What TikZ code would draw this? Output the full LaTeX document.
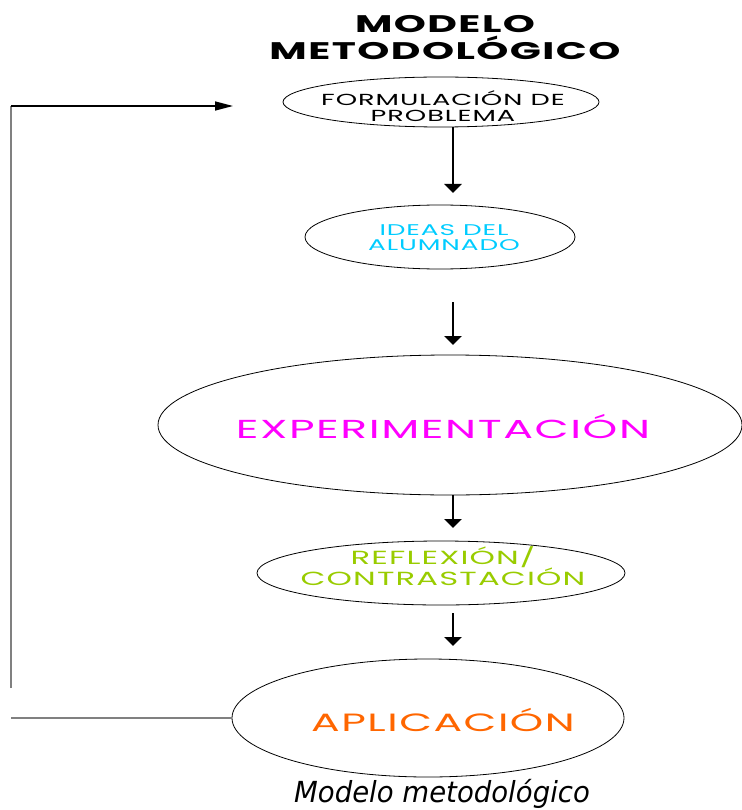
\documentclass[tikz,border=0pt]{standalone}
\usepackage{fontspec}
\setmainfont{Poppins}[FakeStretch=1.7,LetterSpace=6]
\newfontfamily\piefont{DejaVu Sans}[FakeStretch=0.95]
\usetikzlibrary{positioning,shapes.geometric,arrows.meta}
\definecolor{celeste}{RGB}{0,204,255}
\definecolor{fucsia}{RGB}{255,0,255}
\definecolor{verdelima}{RGB}{153,204,0}
\definecolor{naranja}{RGB}{255,102,0}
\definecolor{gris}{RGB}{128,128,128}
\newcommand{\letra}[2]{\fontsize{#1}{#2}\selectfont}
\tikzstyle{etapa} = [draw, ellipse, inner sep=0pt, line width=0.8pt]
\tikzstyle{rotulo} = [align=center, inner sep=0pt]
\tikzstyle{paso} = [line width=2.5pt, -{Triangle[length=9pt,width=17pt]}]
\tikzstyle{retorno} = [draw=gris, line width=2pt]

\begin{document}
\begin{tikzpicture}[x=1pt,y=-1pt]
			\useasboundingbox (0,0) rectangle (741,810);
			\node[rotulo, font=\bfseries\letra{24}{27}] (titulo) at (445,38) {MODELO\\METODOLÓGICO};
			\node[etapa, minimum width=316pt, minimum height=50pt] (form) at (441,102) {};
			\node[rotulo, font=\letra{16}{16}] (formtxt) at (443,106) {FORMULACIÓN DE\\PROBLEMA};
			\node[etapa, minimum width=270pt, minimum height=64pt] (ideas) at (440,237) {};
			\node[rotulo, text=celeste, font=\letra{15.5}{15}] (ideastxt) at (444,238) {IDEAS DEL\\ALUMNADO};
			\node[etapa, minimum width=584pt, minimum height=140pt] (exp) at (450,425) {};
			\node[rotulo, text=fucsia, font=\letra{26}{26}] (exptxt) at (443,427) {EXPERIMENTACIÓN};
			\node[etapa, minimum width=368pt, minimum height=64pt] (refl) at (441,573) {};
			\node[rotulo, text=verdelima, font=\letra{19}{21}] (refltxt) at (443,566) {REFLEXIÓN/\\CONTRASTACIÓN};
			\node[etapa, minimum width=392pt, minimum height=118pt] (apl) at (428,718) {};
			\node[rotulo, text=naranja, font=\letra{25}{25}] (apltxt) at (443,720) {APLICACIÓN};
			\node[rotulo, font=\piefont\itshape\letra{29}{29}] (pie) at (442,794) {Modelo metodológico};
			\coordinate (f1) at (453,193);
			\coordinate (i1) at (453,302);
			\coordinate (i2) at (453,345);
			\coordinate (e1) at (453,528);
			\coordinate (c1) at (453,613);
			\coordinate (c2) at (453,646);
			\coordinate (r1) at (11,688);
			\coordinate (r2) at (11,106);
			\coordinate (r3) at (233,106);
			\draw[paso] (form.south -| f1) -- (f1);
			\draw[paso] (i1) -- (i2);
			\draw[paso] (exp.south -| e1) -- (e1);
			\draw[paso] (c1) -- (c2);
			\draw[retorno] (apl.west) -- (apl.west -| r1);
			\draw[retorno] (r1) -- (r2);
			\draw[line width=1.5pt, -{Triangle[length=18pt,width=9pt]}] (r2) -- (r3);
		\end{tikzpicture}
\end{document}
